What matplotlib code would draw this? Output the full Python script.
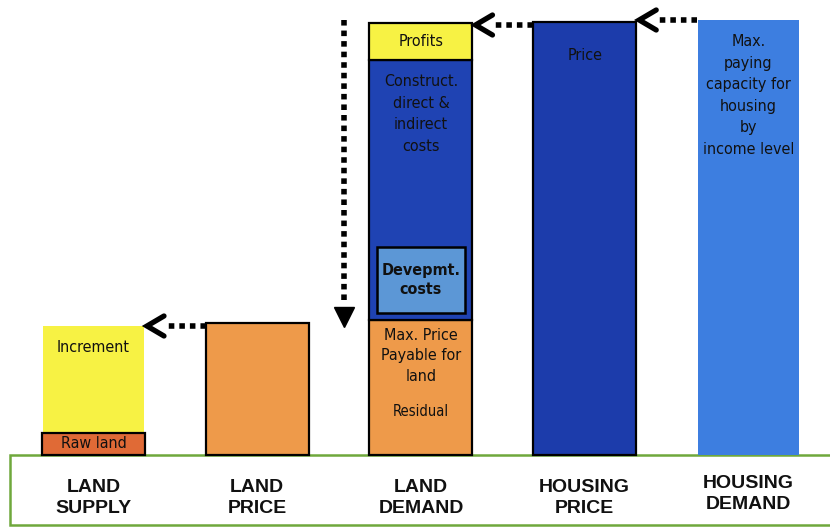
import matplotlib.pyplot as plt

# Etiquetas de las columnas
categorias = ["LAND\nSUPPLY", "LAND\nPRICE", "LAND\nDEMAND", "HOUSING\nPRICE", "HOUSING\nDEMAND"]

# Alturas de cada tramo (unidades arbitrarias)
raw_land = 22
increment = 107
land_price = 132
residual = 135
construct_costs = 260
profits = 37
devpmt_costs = 66
housing_price = 433
housing_demand = 435

# Colores
amarillo = "#F7F244"
naranja = "#EE9A4A"
rojizo = "#E06A36"
azul = "#1F43B3"
azul_claro = "#5C97D6"
azul_medio = "#3D7EE0"
verde = "#6FA83C"

plt.rcParams["font.family"] = ["DejaVu Sans"]

fig = plt.figure(figsize=(8.3, 5.27), dpi=100)
ax = fig.add_axes([0, 0, 1, 1])
ax.set_xlim(-0.571, 4.498)
ax.set_ylim(-72, 455)
ax.axis("off")

px = 1 / 163.75  # un píxel en unidades de x
w = 103 * px     # ancho de barra
borde = dict(edgecolor="black", linewidth=1.6)

# Suelo
ax.add_patch(plt.Rectangle((-0.51, -70), 5.2, 70, facecolor="white",
                           edgecolor=verde, linewidth=1.8, zorder=1))

# LAND SUPPLY
ax.bar(0, increment, width=w - 2 * px, bottom=raw_land, color=amarillo, zorder=2)
ax.bar(0, raw_land, width=w, color=rojizo, zorder=3, **borde)
# LAND PRICE
ax.bar(1, land_price, width=w, color=naranja, zorder=2, **borde)
# LAND DEMAND
ax.bar(2, residual, width=w, color=naranja, zorder=2, **borde)
ax.bar(2, construct_costs, width=w, bottom=residual, color=azul, zorder=2, **borde)
ax.bar(2, profits, width=w, bottom=residual + construct_costs, color=amarillo, zorder=2, **borde)
ax.bar(2, devpmt_costs, width=88 * px, bottom=residual + 7, color=azul_claro, zorder=3,
       edgecolor="black", linewidth=1.8)
# HOUSING PRICE / DEMAND
ax.bar(3, housing_price, width=w, color="#1C3CAB", zorder=2, **borde)
ax.bar(4, housing_demand, width=w - 2 * px, color=azul_medio, zorder=2)

# Textos dentro de las barras
txt = dict(ha="center", color="#111111", fontsize=11.5, zorder=5, linespacing=1.55,
           fontstretch="condensed")
ax.text(0, raw_land / 2, "Raw land", va="center", **txt)
ax.text(0, raw_land + increment - 22, "Increment", va="center", **txt)
ax.text(2, residual + construct_costs + profits / 2, "Profits", va="center", **txt)
ax.text(2, residual + construct_costs - 14, "Construct.\ndirect &\nindirect\ncosts", va="top", **txt)
ax.text(2, residual + 7 + devpmt_costs / 2, "Devepmt.\ncosts", va="center",
        fontweight="bold", **{**txt, "linespacing": 1.4})
ax.text(2, residual - 8, "Max. Price\nPayable for\nland", va="top", **{**txt, "linespacing": 1.45})
ax.text(2, 43, "Residual", va="center", **{**txt, "fontsize": 10.5})
ax.text(3, housing_price - 33, "Price", va="center", **txt)
ax.text(4, housing_demand - 14, "Max.\npaying\ncapacity for\nhousing\nby\nincome level",
        va="top", **txt)

# Etiquetas inferiores
for i, cat in enumerate(categorias):
    ax.text(i, -43 + (4 if i == 4 else 0), cat, ha="center", va="center", fontsize=14,
            fontweight="bold", family=["Liberation Sans", "DejaVu Sans"],
            color="#111111", linespacing=1.3)


def flecha_izq(x_ini, x_fin, y):
    """Flecha punteada horizontal con punta abierta hacia la izquierda"""
    ax.plot([x_ini, x_fin + 20 * px], [y, y], color="black", lw=4,
            linestyle=(0, (1, 0.9)), dash_capstyle="butt", zorder=6)
    ax.plot([x_fin + 17 * px, x_fin, x_fin + 17 * px], [y + 10, y, y - 10],
            color="black", lw=3.8, solid_joinstyle="miter", solid_capstyle="round", zorder=6)


flecha_izq(1 - w / 2, w / 2 + 2 * px, raw_land + increment)
flecha_izq(3 - w / 2, 2 + w / 2 + 3 * px, residual + construct_costs + profits - 2)
flecha_izq(4 - w / 2, 3 + w / 2 + 3 * px, housing_demand)

# Flecha vertical punteada
xv = 2 - w / 2 - 25 * px
ax.plot([xv, xv], [housing_demand, residual + 15], color="black", lw=4,
        linestyle=(0, (1, 0.9)), dash_capstyle="butt", zorder=6)
ax.plot([xv], [residual + 3], marker="v", markersize=14, color="black", zorder=6)

fig.savefig("out.png", dpi=100)
